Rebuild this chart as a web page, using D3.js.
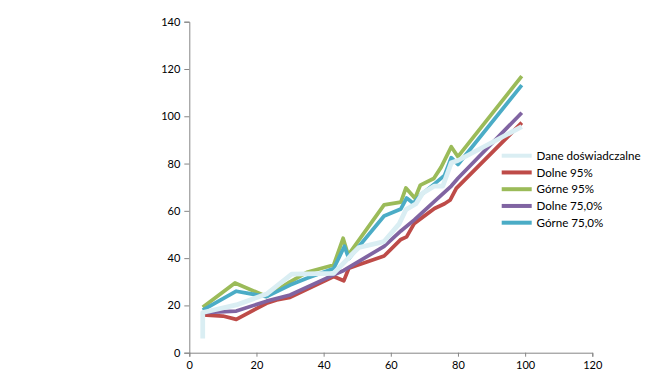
<!DOCTYPE html>
<html><head><meta charset="utf-8">
<script src="https://cdn.jsdelivr.net/npm/d3@7"></script>
<style>
body{margin:0;background:#fff;}
svg{display:block;font-family:Lato,"Open Sans",sans-serif;}
</style></head>
<body>
<svg id="chart" width="654" height="380"></svg>
<script>
// ---- data ----
const seriesNames = ["Dane doświadczalne","Dolne 95%","Górne 95%","Dolne 75,0%","Górne 75,0%"];
const seriesColors = ["#DAEEF3","#BE4B48","#9BBB59","#8064A2","#4BACC6"];
const xTicks = [0,20,40,60,80,100,120];
const yTicks = [0,20,40,60,80,100,120,140];

const daneX = [4,4,14,23,30.5,43,46,48,50.5,58,62.5,64.5,67.5,69.5,73,75.5,78,80,99];
const daneY = [6,17,20.2,24.8,33.2,33.6,38,41,44.5,47,54.5,60.5,63,67.5,70.5,70.5,80.3,81.3,95.6];

const dolne95X = [4,10,14,23,26,30,43,46,47.5,50,58,63,64.7,67,73,76,77.7,79.5,99];
const dolne95Y = [16,15.5,14.1,20.9,22.3,23.4,32.2,30.4,35.7,37,40.9,47.9,49,54.7,61,63,64.6,69.5,97.3];

const gorne95X = [4,13.6,23,30,35,43,45.8,47.3,58,63,64.5,67.2,68.8,72.8,75,78,80,99];
const gorne95Y = [19.2,29.5,23.8,30,34,37.1,48.4,41.3,62.5,63.7,69.7,65.3,70.9,73.7,78.5,87.1,82.9,117];

const dolne75X = [4,14,23,30,43,46,58,63,67,73,78,80,99];
const dolne75Y = [17,17.6,21.8,24.4,32.9,34.8,45,51.5,56.2,64,70.5,73.8,101.5];

const gorne75X = [4,14,23,30,35,43,46.2,47.5,58,63,64.7,66.7,69,73,76,78,80,99];
const gorne75Y = [18,26,23.7,28.6,31.5,35.6,45,39.8,57.8,60.8,65.4,63.2,66.8,71.4,75,82.5,79.6,113.2];

// ---- chart ----
const svg = d3.select("#chart");
const x = d3.scaleLinear().domain([0,120]).range([189.3,592.3]);
const y = d3.scaleLinear().domain([0,140]).range([352.7,21.7]);
const axisColor = "#868686";

const gx = svg.append("g").attr("transform",`translate(0,${y(0)})`)
  .call(d3.axisBottom(x).tickValues(xTicks).tickSize(4).tickPadding(5).tickFormat(d3.format("d")));
const gy = svg.append("g").attr("transform",`translate(${x(0)},0)`)
  .call(d3.axisLeft(y).tickValues(yTicks).tickSize(5).tickPadding(4).tickFormat(d3.format("d")));
[gx,gy].forEach(g=>{
  g.select(".domain").attr("stroke",axisColor).attr("stroke-width",1);
  g.selectAll(".tick line").attr("stroke",axisColor);
  g.selectAll(".tick text").attr("fill","#000").style("font-size","11px").style("font-family","Lato,sans-serif");
});

const data = [
  {x:daneX,y:daneY,w:4.75},
  {x:dolne95X,y:dolne95Y,w:3.75},
  {x:gorne95X,y:gorne95Y,w:3.75},
  {x:dolne75X,y:dolne75Y,w:3.75},
  {x:gorne75X,y:gorne75Y,w:3.75}
];
const line = d3.line().x(d=>x(d[0])).y(d=>y(d[1]));
const order = [1,2,3,4,0];
order.forEach(i=>{
  const s = data[i];
  const pts = s.x.map((v,j)=>[v,s.y[j]]);
  svg.append("path").datum(pts).attr("d",line)
    .attr("fill","none").attr("stroke",seriesColors[i])
    .attr("stroke-width",s.w).attr("stroke-linejoin","round");
});

// legend
const lg = svg.append("g");
seriesNames.forEach((n,i)=>{
  const yy = 155.7 + i*16.75;
  lg.append("line").attr("x1",501.7).attr("x2",531.7).attr("y1",yy).attr("y2",yy)
    .attr("stroke",seriesColors[i]).attr("stroke-width",4);
  lg.append("text").attr("x",536.5).attr("y",yy).attr("dy","0.35em")
    .style("font-size","11.6px").attr("fill","#000").text(n);
});
</script>
</body></html>
